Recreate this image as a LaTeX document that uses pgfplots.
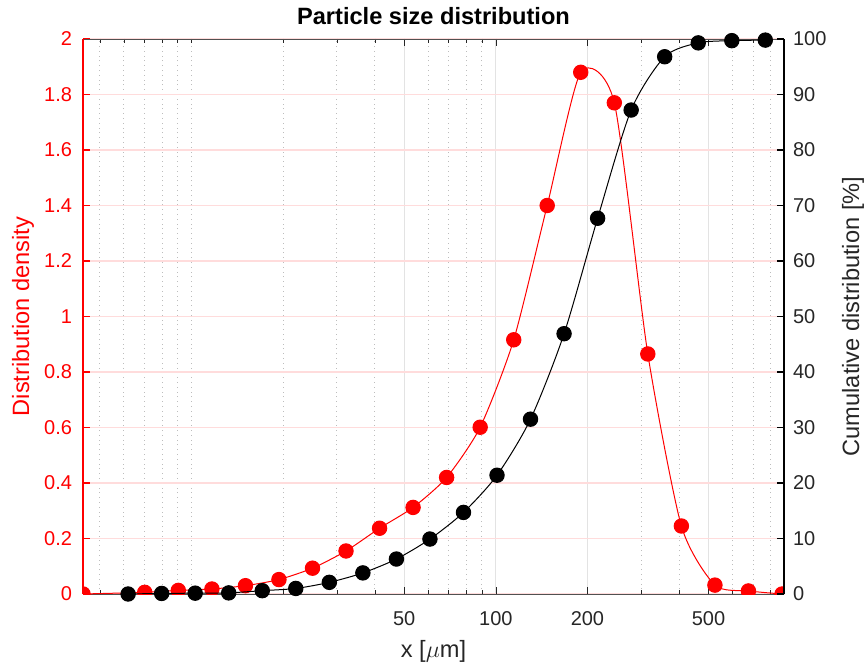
\documentclass[border=0pt]{standalone}
\usepackage{pgfplots}
\pgfplotsset{compat=1.18}
\usepackage{pgfplotstable}
\usepackage{fontspec}
\setmainfont{Liberation Sans}
\definecolor{axgray}{HTML}{262626}
\definecolor{gridgray}{HTML}{E3E3E3}
\definecolor{mingray}{HTML}{BDBDBD}
\definecolor{gridred}{HTML}{FFDCDC}

% density q3 (left axis)
\pgfplotstableread{
x y
4.40 0
7.02 0.006
9.05 0.013
11.67 0.018
15.04 0.030
19.38 0.052
24.98 0.093
32.19 0.155
41.49 0.237
53.47 0.312
68.91 0.420
88.82 0.601
114.5 0.916
147.5 1.400
190.1 1.880
245.1 1.770
315.8 0.865
407.1 0.245
524.7 0.032
676.2 0.011
872.0 0
}\density

% cumulative Q3 in % (right axis)
\pgfplotstableread{
x y
6.19 0
7.98 0.1
10.28 0.15
13.25 0.2
17.08 0.6
22.01 1.0
28.37 2.1
36.57 3.8
47.13 6.3
60.74 9.9
78.29 14.7
100.9 21.4
130.0 31.5
167.6 46.9
216.0 67.7
278.4 87.2
358.8 96.8
462.5 99.3
596.1 99.7
768.3 99.8
}\cumul

\begin{document}
\begin{tikzpicture}
\useasboundingbox (-41.5pt,-34.5pt) rectangle (391.5pt,297pt);
\begin{axis}[
  at={(0,0)}, anchor=south west,
  scale only axis, width=350.5pt, height=277.5pt,
  xmode=log, xmin=4.4, xmax=885,
  tick align=inside,
  major tick length=3.5pt, minor tick length=2pt,
  axis line style={-},
  /pgf/number format/assume math mode=true,
  ticklabel style={font=\fontsize{10}{12}\selectfont},
  label style={font=\fontsize{11.8}{14}\selectfont},
  axis x line*=box, axis y line*=left,
  ymin=0, ymax=2,
  ytick={0,0.2,0.4,0.6,0.8,1,1.2,1.4,1.6,1.8,2},
  xtick={50,100,200,500}, xticklabels={50,100,200,500},
  minor xtick={5,6,7,8,9,10,20,30,40,60,70,80,90,300,400,600,700,800},
  xmajorgrids, xminorgrids, ymajorgrids,
  major x grid style={gridgray, line width=0.6pt},
  minor x grid style={mingray, dotted, line width=0.5pt},
  major y grid style={gridred, line width=0.6pt},
  x axis line style={draw=axgray!80},
  y axis line style={draw=red, line width=0.8pt},
  x tick style={axgray},
  y tick style={red, line width=0.8pt},
  xticklabel style={text=axgray, yshift=-5pt},
  yticklabel style={text=red, xshift=-2pt},
  title={Particle size distribution},
  every axis title/.style={at={(axis description cs:0.5,1)}, anchor=base, yshift=7pt,
    font=\fontsize{11.8}{14}\selectfont\bfseries},
  xlabel={x [$\mu$m]},
  xlabel style={at={(axis description cs:0.5,0)}, anchor=base, yshift=-31.5pt, text=axgray},
  ylabel={Distribution density},
  ylabel style={at={(axis description cs:-0.0856,0.5)}, anchor=center, text=red},
  clip marker paths=true,
]
\addplot[red, line width=0.5pt, smooth, tension=0.4, mark=*, mark size=3.6pt,
  mark options={fill=red, draw=red}] table[x=x, y=y] {\density};
\end{axis}
\begin{axis}[
  at={(0,0)}, anchor=south west,
  scale only axis, width=350.5pt, height=277.5pt,
  xmode=log, xmin=4.4, xmax=885,
  tick align=inside,
  major tick length=3.5pt, minor tick length=2pt,
  axis line style={-},
  /pgf/number format/assume math mode=true,
  ticklabel style={font=\fontsize{10}{12}\selectfont},
  label style={font=\fontsize{11.8}{14}\selectfont},
  axis x line=none, axis y line*=right,
  ymin=0, ymax=100, ytick={0,10,...,100},
  y axis line style={draw=black, line width=0.8pt},
  y tick style={black, line width=0.8pt},
  yticklabel style={text=axgray, xshift=1pt},
  ylabel={Cumulative distribution [\%]},
  ylabel style={at={(axis description cs:1.0984,0.5)}, anchor=center, rotate=0, text=axgray},
]
\addplot[black, line width=0.5pt, smooth, tension=0.45, mark=*, mark size=3.6pt,
  mark options={fill=black, draw=black}] table[x=x, y=y] {\cumul};
\end{axis}
\end{tikzpicture}
\end{document}
